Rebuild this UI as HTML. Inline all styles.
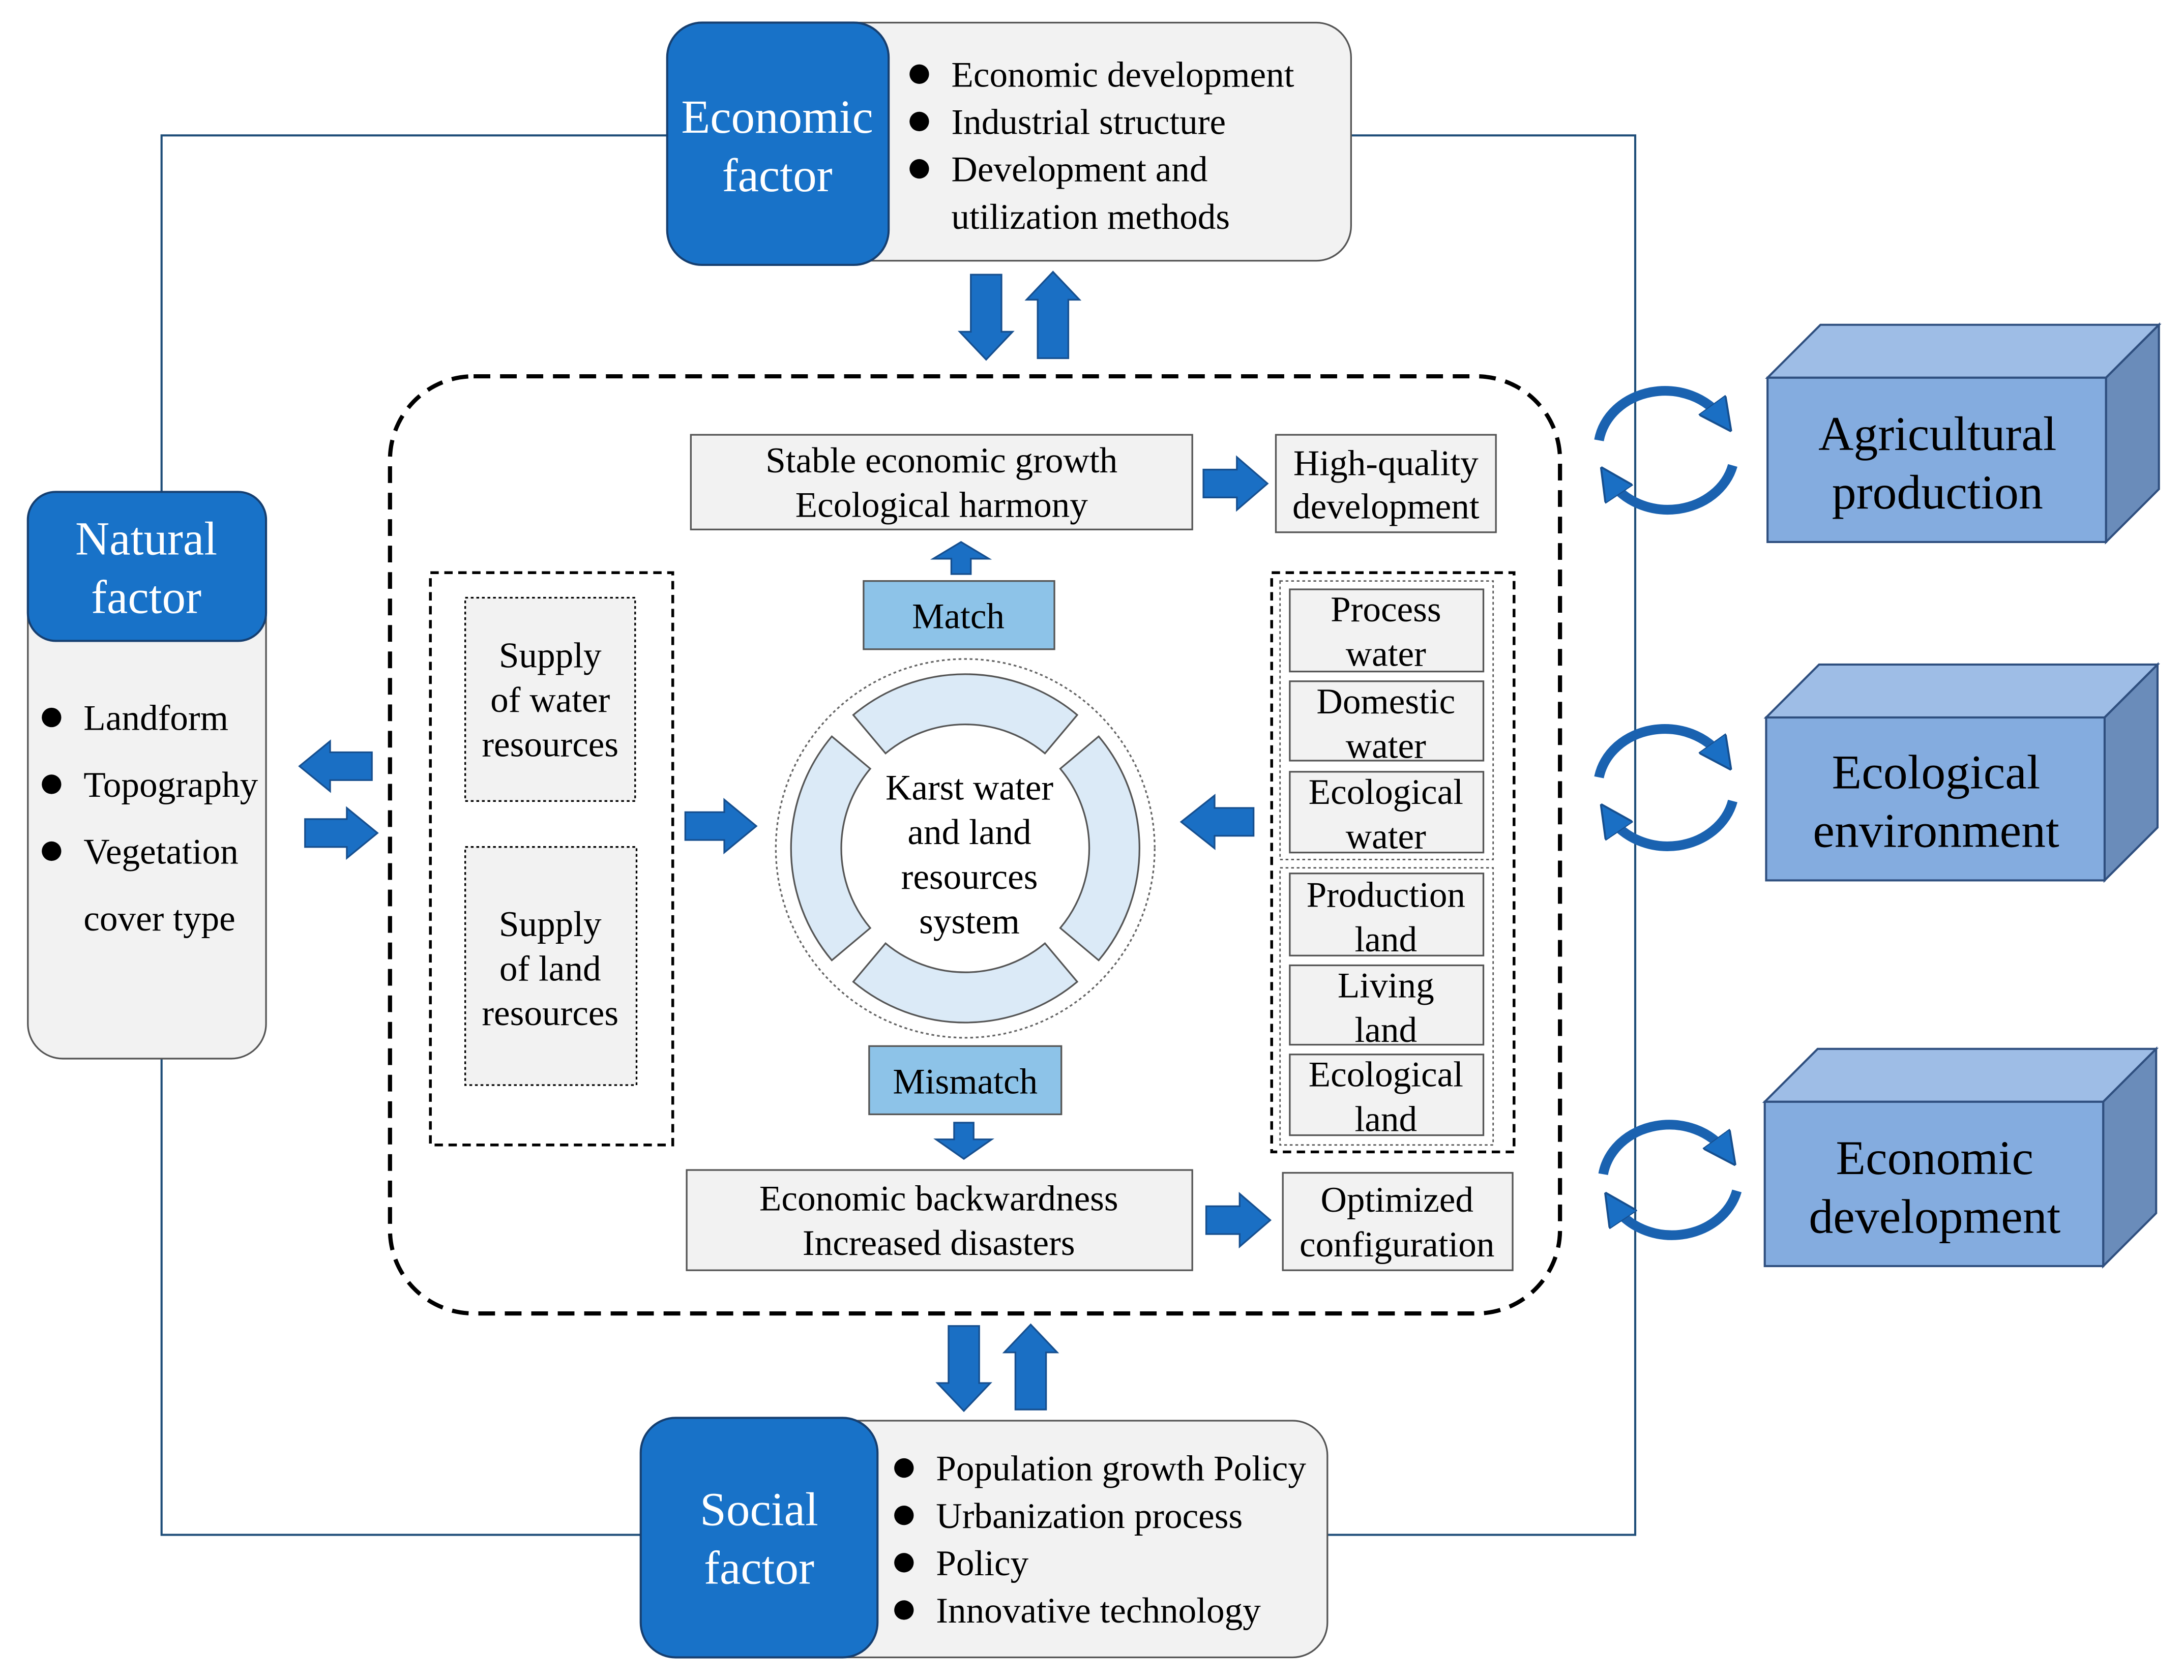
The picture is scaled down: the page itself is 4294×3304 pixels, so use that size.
<!DOCTYPE html>
<html><head><meta charset="utf-8"><style>
html,body{margin:0;padding:0;background:#fff}
svg{display:block}
svg text{font-family:'Liberation Serif','Times New Roman',serif !important;fill:#000}
</style></head><body>
<svg width="4294" height="3304" viewBox="0 0 1568 1206" xmlns="http://www.w3.org/2000/svg" font-family="Liberation Serif, serif">
<defs>
<marker id="ah" viewBox="0 0 10 10" refX="5" refY="5" markerWidth="3.4" markerHeight="3.4" orient="auto-start-reverse" markerUnits="strokeWidth">
<path d="M0,0 L10,5 L0,10 Z" fill="#1a6fc4" stroke="#164f8f" stroke-width="0.6"/></marker>
</defs>
<rect x="116" y="97" width="1058" height="1005" fill="none" stroke="#1f4e79" stroke-width="1.5"/>

<rect x="280" y="270" width="840" height="673" rx="60" fill="#fff" stroke="#000" stroke-width="3" stroke-dasharray="12 7"/>

<rect x="479" y="16" width="491" height="171" rx="25" fill="#f2f2f2" stroke="#555" stroke-width="1.2"/>
<rect x="479" y="16" width="159" height="174" rx="25" fill="#1872c8" stroke="#163f70" stroke-width="1.5"/>
<text x="558" y="95" font-size="34" text-anchor="middle" style="fill:#fff">Economic</text>
<text x="558" y="137" font-size="34" text-anchor="middle" style="fill:#fff">factor</text>
<g font-size="26">
<circle cx="660" cy="53" r="7"/><text x="683" y="62">Economic development</text>
<circle cx="660" cy="87" r="7"/><text x="683" y="96">Industrial structure</text>
<circle cx="660" cy="121" r="7"/><text x="683" y="130">Development and</text>
<text x="683" y="164">utilization methods</text>
</g>

<rect x="20" y="353" width="171" height="407" rx="25" fill="#f2f2f2" stroke="#555" stroke-width="1.2"/>
<rect x="20" y="353" width="171" height="107" rx="20" fill="#1872c8" stroke="#163f70" stroke-width="1.5"/>
<text x="105" y="398" font-size="34" text-anchor="middle" style="fill:#fff">Natural</text>
<text x="105" y="440" font-size="34" text-anchor="middle" style="fill:#fff">factor</text>
<g font-size="26">
<circle cx="37" cy="515" r="7"/><text x="60" y="524">Landform</text>
<circle cx="37" cy="563" r="7"/><text x="60" y="572">Topography</text>
<circle cx="37" cy="611" r="7"/><text x="60" y="620">Vegetation</text>
<text x="60" y="668">cover type</text>
</g>

<rect x="460" y="1020" width="493" height="170" rx="25" fill="#f2f2f2" stroke="#555" stroke-width="1.2"/>
<rect x="460" y="1018" width="170" height="172" rx="25" fill="#1872c8" stroke="#163f70" stroke-width="1.5"/>
<text x="545" y="1095" font-size="34" text-anchor="middle" style="fill:#fff">Social</text>
<text x="545" y="1137" font-size="34" text-anchor="middle" style="fill:#fff">factor</text>
<g font-size="26">
<circle cx="649" cy="1054" r="7"/><text x="672" y="1063">Population growth Policy</text>
<circle cx="649" cy="1088" r="7"/><text x="672" y="1097">Urbanization process</text>
<circle cx="649" cy="1122" r="7"/><text x="672" y="1131">Policy</text>
<circle cx="649" cy="1156" r="7"/><text x="672" y="1165">Innovative technology</text>
</g>

<g fill="#1a6fc4" stroke="#164f8f" stroke-width="1.2">
<path d="M697,197 H719 V238 H727 L708,258 L689,238 H697 Z"/>
<path d="M745,257 H767 V215 H775 L756,195 L737,215 H745 Z"/>
<path d="M681,952 H703 V993 H711 L692,1013 L673,993 H681 Z"/>
<path d="M729,1012 H751 V971 H759 L740,951 L721,971 H729 Z"/>
<path d="M267,540 V560 H237 V568 L215,550 L237,532 V540 Z"/>
<path d="M219,588 V608 H249 V616 L271,598 L249,580 V588 Z"/>
<path d="M864,337 V357 H888 V366 L910,347 L888,328 V337 Z"/>
<path d="M866,866 V886 H890 V895 L912,876 L890,857 V866 Z"/>
<path d="M492,583 V603 H520 V612 L543,593 L520,574 V583 Z"/>
<path d="M900,580 V600 H872 V609 L848,590 L872,571 V580 Z"/>
<path d="M683,412 H697 V401 H710 L690,389 L670,401 H683 Z"/>
<path d="M685,806 H699 V818 H712 L692,832 L672,818 H685 Z"/>
</g>

<g fill="#f2f2f2" stroke="#555" stroke-width="1.2">
<rect x="496" y="312" width="360" height="68"/>
<rect x="916" y="312" width="158" height="70"/>
<rect x="493" y="840" width="363" height="72"/>
<rect x="921" y="842" width="165" height="70"/>
</g>
<g font-size="26" text-anchor="middle">
<text x="676" y="339">Stable economic growth</text>
<text x="676" y="371">Ecological harmony</text>
<text x="995" y="341">High-quality</text>
<text x="995" y="372">development</text>
<text x="674" y="869">Economic backwardness</text>
<text x="674" y="901">Increased disasters</text>
<text x="1003" y="870">Optimized</text>
<text x="1003" y="902">configuration</text>
</g>
<rect x="620" y="417" width="137" height="49" fill="#8dc3e8" stroke="#555" stroke-width="1.2"/>
<text x="688" y="451" font-size="26" text-anchor="middle">Match</text>
<rect x="624" y="751" width="138" height="49" fill="#8dc3e8" stroke="#555" stroke-width="1.2"/>
<text x="693" y="785" font-size="26" text-anchor="middle">Mismatch</text>

<circle cx="693" cy="609" r="136" fill="none" stroke="#666" stroke-width="1.2" stroke-dasharray="2 2"/>
<g fill="#dbeaf7" stroke="#555" stroke-width="1.2">
<path id="seg" d="M612.6,513.2 A125,125 0 0 1 773.4,513.2 L750.2,540.8 A89,89 0 0 0 635.8,540.8 Z"/>
<path d="M612.6,513.2 A125,125 0 0 1 773.4,513.2 L750.2,540.8 A89,89 0 0 0 635.8,540.8 Z" transform="rotate(90 693 609)"/>
<path d="M612.6,513.2 A125,125 0 0 1 773.4,513.2 L750.2,540.8 A89,89 0 0 0 635.8,540.8 Z" transform="rotate(180 693 609)"/>
<path d="M612.6,513.2 A125,125 0 0 1 773.4,513.2 L750.2,540.8 A89,89 0 0 0 635.8,540.8 Z" transform="rotate(270 693 609)"/>
</g>
<g font-size="26" text-anchor="middle">
<text x="696" y="574">Karst water</text>
<text x="696" y="606">and land</text>
<text x="696" y="638">resources</text>
<text x="696" y="670">system</text>
</g>

<rect x="309" y="411" width="174" height="411" fill="none" stroke="#000" stroke-width="2" stroke-dasharray="6 4"/>
<rect x="334" y="429" width="122" height="146" fill="#f2f2f2" stroke="#000" stroke-width="1.2" stroke-dasharray="2 2"/>
<rect x="334" y="608" width="123" height="171" fill="#f2f2f2" stroke="#000" stroke-width="1.2" stroke-dasharray="2 2"/>
<g font-size="26" text-anchor="middle">
<text x="395" y="479">Supply</text><text x="395" y="511">of water</text><text x="395" y="543">resources</text>
<text x="395" y="672">Supply</text><text x="395" y="704">of land</text><text x="395" y="736">resources</text>
</g>

<rect x="913" y="411" width="174" height="416" fill="none" stroke="#000" stroke-width="2" stroke-dasharray="6 4"/>
<rect x="919" y="417" width="153" height="200" fill="none" stroke="#555" stroke-width="1" stroke-dasharray="2 2"/>
<rect x="919" y="623" width="153" height="199" fill="none" stroke="#555" stroke-width="1" stroke-dasharray="2 2"/>
<g fill="#f2f2f2" stroke="#555" stroke-width="1.2">
<rect x="926" y="423" width="139" height="59"/>
<rect x="926" y="489" width="139" height="57"/>
<rect x="926" y="554" width="139" height="58"/>
<rect x="926" y="627" width="139" height="59"/>
<rect x="926" y="693" width="139" height="57"/>
<rect x="926" y="757" width="139" height="58"/>
</g>
<g font-size="26" text-anchor="middle">
<text x="995" y="446">Process</text><text x="995" y="478">water</text>
<text x="995" y="512">Domestic</text><text x="995" y="544">water</text>
<text x="995" y="577">Ecological</text><text x="995" y="609">water</text>
<text x="995" y="651">Production</text><text x="995" y="683">land</text>
<text x="995" y="716">Living</text><text x="995" y="748">land</text>
<text x="995" y="780">Ecological</text><text x="995" y="812">land</text>
</g>

<g stroke="#2f4f7f" stroke-width="1.5">
<path d="M1269,271 L1307,233 L1550,233 L1512,271 Z" fill="#9ebde6"/>
<path d="M1512,271 L1550,233 L1550,351 L1512,389 Z" fill="#6a8cba"/>
<rect x="1269" y="271" width="243" height="118" fill="#84acdf"/>
<path d="M1268,515 L1306,477 L1549,477 L1511,515 Z" fill="#9ebde6"/>
<path d="M1511,515 L1549,477 L1549,594 L1511,632 Z" fill="#6a8cba"/>
<rect x="1268" y="515" width="243" height="117" fill="#84acdf"/>
<path d="M1267,791 L1305,753 L1548,753 L1510,791 Z" fill="#9ebde6"/>
<path d="M1510,791 L1548,753 L1548,871 L1510,909 Z" fill="#6a8cba"/>
<rect x="1267" y="791" width="243" height="118" fill="#84acdf"/>
</g>
<g font-size="35" text-anchor="middle">
<text x="1391" y="323">Agricultural</text><text x="1391" y="365">production</text>
<text x="1390" y="566">Ecological</text><text x="1390" y="608">environment</text>
<text x="1389" y="843">Economic</text><text x="1389" y="885">development</text>
</g>

<g fill="none" stroke="#1a62b0" stroke-width="7">
<path d="M1148,316 A48,42 0 0 1 1236,300" marker-end="url(#ah)"/>
<path d="M1244,334 A48,42 0 0 1 1156,345" marker-end="url(#ah)"/>
<path d="M1148,558 A48,42 0 0 1 1236,543" marker-end="url(#ah)"/>
<path d="M1244,575 A48,42 0 0 1 1156,587" marker-end="url(#ah)"/>
<path d="M1151,843 A48,42 0 0 1 1239,827" marker-end="url(#ah)"/>
<path d="M1247,855 A48,42 0 0 1 1159,866" marker-end="url(#ah)"/>
</g>
</svg>
</body></html>
